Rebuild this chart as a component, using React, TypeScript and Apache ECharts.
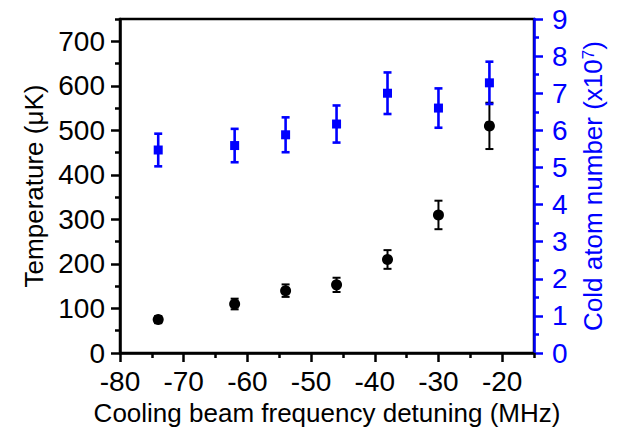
import React, { useEffect, useRef } from "react";
import * as echarts from "echarts";

const detuning = [-74, -62, -54, -46, -38, -30, -22];
const temperature = [75, 110, 140, 153, 210, 310, 510];
const temperatureErr = [8, 12, 14, 16, 21, 32, 52];
const atomNumber = [5.47, 5.59, 5.88, 6.17, 7.0, 6.6, 7.28];
const atomNumberErr = [0.44, 0.45, 0.47, 0.5, 0.56, 0.53, 0.57];

const xMajorTicks = [-80, -70, -60, -50, -40, -30, -20];
const xMinorTicks = [-75, -65, -55, -45, -35, -25, -15];
const yMajorTicks = [0, 100, 200, 300, 400, 500, 600, 700];
const yMinorTicks = [50, 150, 250, 350, 450, 550, 650, 750];

const FONT = "'Liberation Sans', Arial, sans-serif";
const BLUE = "#0000ff";

function errorBarRenderer(color: string, lw: number) {
  return (params: any, api: any) => {
    const x = api.value(0);
    const lo = api.value(1);
    const hi = api.value(2);
    const pLo = api.coord([x, lo]);
    const pHi = api.coord([x, hi]);
    const w = 4;
    const style = { stroke: color, lineWidth: lw, fill: "none" };
    return {
      type: "group",
      children: [
        { type: "line", shape: { x1: pLo[0], y1: pLo[1], x2: pHi[0], y2: pHi[1] }, style },
        { type: "line", shape: { x1: pLo[0] - w, y1: pLo[1], x2: pLo[0] + w, y2: pLo[1] }, style },
        { type: "line", shape: { x1: pHi[0] - w, y1: pHi[1], x2: pHi[0] + w, y2: pHi[1] }, style },
      ],
    };
  };
}

export default function App() {
  const ref = useRef<HTMLDivElement>(null);
  useEffect(() => {
    if (!ref.current) return;
    const chart = echarts.init(ref.current, null, { renderer: "svg" });
    const tempPoints = detuning.map((x, i) => [x, temperature[i]]);
    const tempBars = detuning.map((x, i) => [x, temperature[i] - temperatureErr[i], temperature[i] + temperatureErr[i]]);
    const atomPoints = detuning.map((x, i) => [x, atomNumber[i]]);
    const atomBars = detuning.map((x, i) => [x, atomNumber[i] - atomNumberErr[i], atomNumber[i] + atomNumberErr[i]]);

    chart.setOption({
      animation: false,
      textStyle: { fontFamily: FONT },
      grid: {
        left: 120,
        right: 99,
        top: 19,
        bottom: 80,
        show: true,
        borderColor: "#000",
        borderWidth: 2.5,
        backgroundColor: "transparent",
      },
      xAxis: [
        {
          type: "value",
          min: -80,
          max: -15,
          interval: 10,
          position: "bottom",
          name: "Cooling beam frequency detuning (MHz)",
          nameLocation: "middle",
          nameGap: 42,
          nameTextStyle: { fontSize: 26, color: "#000", fontFamily: FONT },
          axisLine: { show: true, onZero: false, lineStyle: { color: "#000", width: 2.5 } },
          axisTick: { show: true, inside: false, length: 9, customValues: xMajorTicks, lineStyle: { color: "#000", width: 2.5 } },
          axisLabel: { customValues: xMajorTicks, fontSize: 28, color: "#000", margin: 14, fontFamily: FONT },
          splitLine: { show: false },
        },
        {
          type: "value",
          min: -80,
          max: -15,
          interval: 10,
          position: "bottom",
          axisLine: { show: false },
          axisTick: { show: true, inside: false, length: 5, customValues: xMinorTicks, lineStyle: { color: "#000", width: 2.5 } },
          axisLabel: { show: false },
          splitLine: { show: false },
        },
      ],
      yAxis: [
        {
          type: "value",
          min: 0,
          max: 750,
          interval: 100,
          position: "left",
          name: "Temperature (μK)",
          nameLocation: "middle",
          nameRotate: 90,
          nameGap: 73,
          nameTextStyle: { fontSize: 26, color: "#000", fontFamily: FONT },
          axisLine: { show: true, onZero: false, lineStyle: { color: "#000", width: 2.5 } },
          axisTick: { show: true, inside: false, length: 9, customValues: yMajorTicks, lineStyle: { color: "#000", width: 2.5 } },
          axisLabel: { customValues: yMajorTicks, fontSize: 28, color: "#000", margin: 15, fontFamily: FONT },
          splitLine: { show: false },
        },
        {
          type: "value",
          min: 0,
          max: 9,
          interval: 1,
          position: "right",
          name: "Cold atom number (x10{sup|7})",
          nameLocation: "middle",
          nameRotate: 90,
          nameGap: 46,
          nameTextStyle: {
            fontSize: 26,
            color: BLUE,
            fontFamily: FONT,
            rich: {
              sup: { fontSize: 17, color: BLUE, fontFamily: FONT, verticalAlign: "top", lineHeight: 17 },
            },
          },
          axisLine: { show: true, onZero: false, lineStyle: { color: BLUE, width: 2.5 } },
          axisTick: { show: true, inside: false, length: 9, lineStyle: { color: BLUE, width: 2.5 } },
          minorTick: { show: true, splitNumber: 2, length: 5, lineStyle: { color: BLUE, width: 2.5 } },
          axisLabel: { fontSize: 28, color: BLUE, margin: 18, fontFamily: FONT },
          splitLine: { show: false },
          minorSplitLine: { show: false },
        },
        {
          type: "value",
          min: 0,
          max: 750,
          position: "left",
          axisLine: { show: false },
          axisTick: { show: true, inside: false, length: 5, customValues: yMinorTicks, lineStyle: { color: "#000", width: 2.5 } },
          axisLabel: { show: false },
          splitLine: { show: false },
        },
      ],
      series: [
        {
          type: "custom",
          name: "Temperature error",
          xAxisIndex: 0,
          yAxisIndex: 0,
          renderItem: errorBarRenderer("#000", 2),
          encode: { x: 0, y: [1, 2] },
          data: tempBars,
          z: 2,
        },
        {
          type: "scatter",
          name: "Temperature",
          xAxisIndex: 0,
          yAxisIndex: 0,
          symbol: "circle",
          symbolSize: 11,
          itemStyle: { color: "#000", opacity: 1 },
          data: tempPoints,
          z: 3,
        },
        {
          type: "custom",
          name: "Atom number error",
          xAxisIndex: 0,
          yAxisIndex: 1,
          renderItem: errorBarRenderer(BLUE, 2.6),
          encode: { x: 0, y: [1, 2] },
          data: atomBars,
          z: 4,
        },
        {
          type: "scatter",
          name: "Cold atom number",
          xAxisIndex: 0,
          yAxisIndex: 1,
          symbol: "rect",
          symbolSize: 9,
          itemStyle: { color: BLUE, opacity: 1 },
          data: atomPoints,
          z: 5,
        },
      ],
    });
    return () => chart.dispose();
  }, []);
  return (
    <div
      ref={ref}
      style={{ position: "fixed", left: 0, top: 0, width: 633, height: 433, background: "#fff" }}
    />
  );
}
